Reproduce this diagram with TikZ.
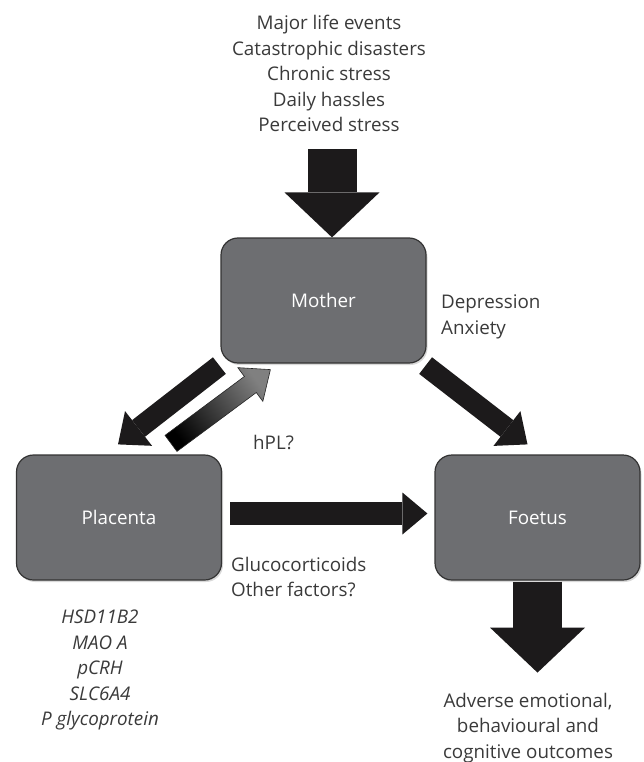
\documentclass[tikz,border=0pt]{standalone}
\usepackage{fontspec}
\setmainfont{Open Sans}
\usetikzlibrary{arrows.meta,calc,shadows}
\definecolor{boxgray}{HTML}{6D6E71}
\definecolor{txtgray}{HTML}{3A3A3A}
\definecolor{arrblack}{HTML}{1C1A1B}

\begin{document}
\begin{tikzpicture}[x=1pt,y=-1pt,
    box/.style={draw=black!80, line width=1.2pt, fill=boxgray, rounded corners=17pt,
      minimum width=205pt, minimum height=125pt, inner sep=0pt, text=white,
      font=\fontsize{18.8}{22}\selectfont,
      drop shadow={opacity=.3, shadow xshift=1.5pt, shadow yshift=-2pt}},
    note/.style={text=txtgray, align=center, inner sep=0pt,
      font=\fontsize{18.8}{25.5}\selectfont},
    fat/.style={draw=arrblack, line cap=butt}]
  \useasboundingbox (0,0) rectangle (643,762);

  \node[box] (mother) at (323.5,300.5) {Mother};
  \node[box] (placenta) at (119,517.5) {Placenta};
  \node[box] (foetus) at (537.5,517.5) {Foetus};

  \node[note] (stress) at (329,73.5) {Major life events\\Catastrophic disasters\\Chronic stress\\Daily hassles\\Perceived stress};
  \node[note, align=left, anchor=west] (mood) at (441,317) {Depression\\Anxiety};
  \node[note, anchor=west] (hpl) at (253,442) {hPL?};
  \node[note, align=left, anchor=west] (gluco) at (231,577) {Glucocorticoids\\Other factors?};
  \node[note, font=\fontsize{18.8}{25.5}\selectfont\itshape] (genes) at (100,670) {HSD11B2\\MAO A\\pCRH\\SLC6A4\\P glycoprotein};
  \node[note] (outcome) at (528,728) {Adverse emotional,\\behavioural and\\cognitive outcomes};

  % end points of the fat arrows
  \coordinate (t1) at ([shift={(8.5,-88)}]mother.north);
  \coordinate (t2) at ([shift={(8.5,0)}]mother.north);
  \coordinate (mp1) at ([shift={(-1,2)}]mother.south west);
  \coordinate (mp2) at ([shift={(-1,-10)}]placenta.north);
  \coordinate (mf1) at ([shift={(-1,2)}]mother.south east);
  \coordinate (mf2) at ([shift={(-10,-10)}]foetus.north);
  \coordinate (pf1) at ([shift={(8,-4)}]placenta.east);
  \coordinate (pf2) at ([shift={(-7,-4)}]foetus.west);
  \coordinate (fo1) at ([shift={(0,1)}]foetus.south);
  \coordinate (fo2) at ([shift={(0,92)}]foetus.south);
  \coordinate (gt) at ([shift={(52,-11)}]placenta.north);
  \coordinate (gp) at ([shift={(50,6)}]mother.south west);
  \coordinate (gh) at ($(gp)!25pt!(gt)$);

  \draw[fat, line width=49pt, -{Triangle[width=95pt,length=45pt,line width=0pt]}] (t1) -- (t2);
  \draw[fat, line width=21pt, -{Triangle[width=44pt,length=26pt,line width=0pt]}] (mp1) -- (mp2);
  \draw[fat, line width=21pt, -{Triangle[width=44pt,length=26pt,line width=0pt]}] (mf1) -- (mf2);
  \draw[fat, line width=23pt, -{Triangle[width=42pt,length=25pt,line width=0pt]}] (pf1) -- (pf2);
  \draw[fat, line width=49pt, -{Triangle[width=95pt,length=45pt,line width=0pt]}] (fo1) -- (fo2);
  % hPL back to the mother, shaded
  \shadedraw[draw=black!85, line width=.6pt, top color=black!50, bottom color=black, shading angle=-53]
    ($(gt)!10pt!90:(gp)$) -- ($(gh)!10pt!90:(gp)$) -- ($(gh)!21pt!90:(gp)$) -- (gp)
    -- ($(gh)!21pt!-90:(gp)$) -- ($(gh)!10pt!-90:(gp)$) -- ($(gt)!10pt!-90:(gp)$) -- cycle;
\end{tikzpicture}
\end{document}
